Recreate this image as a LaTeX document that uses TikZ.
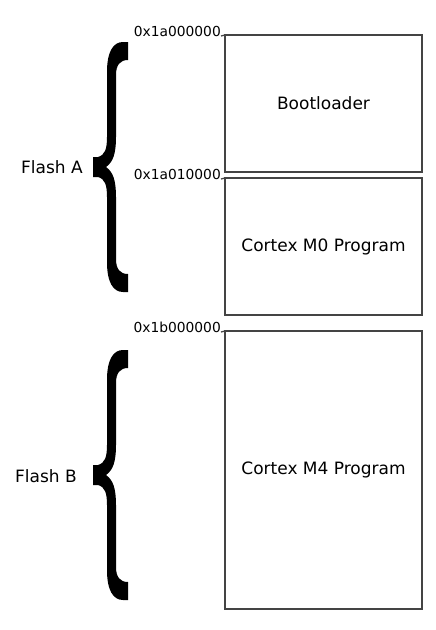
\documentclass[tikz,border=0pt]{standalone}
\usepackage{fontspec}
\setmainfont{DejaVu Sans}
\usetikzlibrary{positioning}
\definecolor{boxline}{HTML}{444444}

\tikzset{
  region/.style = {draw = boxline, line width = 1.3pt, rectangle, minimum width = 197pt,
                   inner sep = 0pt, outer sep = 0pt, font = \fontsize{17}{20}\selectfont},
  addr/.style   = {anchor = base east, inner sep = 0pt, font = \fontsize{13.8}{16}\selectfont},
  flash/.style  = {inner sep = 0pt, font = \fontsize{17}{20}\selectfont},
  tick/.style   = {draw = boxline, line width = 1.3pt},
  flash brace/.pic = {
    \fill (35,-125) -- (35,-107) .. controls (27,-107) and (23,-102) .. (23,-92)
      -- (23,-30) .. controls (23,-13) and (20,-5) .. (13,0)
      .. controls (20,5) and (23,13) .. (23,30)
      -- (23,92) .. controls (23,102) and (27,107) .. (35,107)
      -- (35,125) -- (30,125) .. controls (20,125) and (14,115) .. (14,95)
      -- (14,30) .. controls (14,18) and (12,12) .. (5,10) -- (0,10)
      -- (0,-10) -- (5,-10) .. controls (12,-12) and (14,-18) .. (14,-30)
      -- (14,-95) .. controls (14,-115) and (20,-125) .. (30,-125) -- cycle;
  }
}

\begin{document}
\begin{tikzpicture}[x = 1pt, y = -1pt]
\useasboundingbox (0,0) rectangle (436,630);

% memory regions
\node [region, minimum height = 137pt] (boot) at (323.5,103.5) {Bootloader};
\node [region, minimum height = 137pt, below = 6pt of boot] (m0) {Cortex M0 Program};
\node [region, minimum height = 278pt, below = 16pt of m0] (m4) {Cortex M4 Program};

% start addresses
\node [addr] (addrboot) at ([xshift = -4pt, yshift = -1pt] boot.north west) {0x1a000000};
\node [addr] (addrm0) at ([xshift = -4pt, yshift = -1pt] m0.north west) {0x1a010000};
\node [addr] (addrm4) at ([xshift = -4pt, yshift = -1pt] m4.north west) {0x1b000000};
\draw [tick] (addrboot.base east) -- (boot.north west);
\draw [tick] (addrm0.base east) -- (m0.north west);
\draw [tick] (addrm4.base east) -- (m4.north west);

% flash banks
\pic at (93,167) {flash brace};
\pic at (93,475) {flash brace};
\node [flash] (flasha) at (52,167) {Flash A};
\node [flash] (flashb) at (46,476) {Flash B};
\end{tikzpicture}
\end{document}
